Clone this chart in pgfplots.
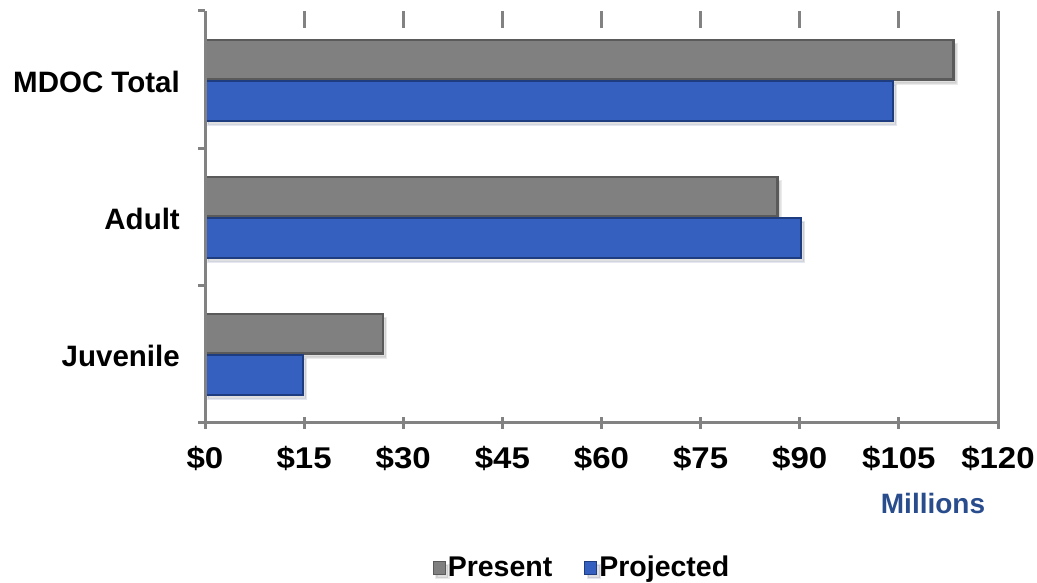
\documentclass[border=0pt]{standalone}
\usepackage{fontspec}
\setmainfont{Liberation Sans}
\newfontfamily\tickfont[FakeStretch=1.1]{Liberation Sans}
\usepackage{pgfplots}
\pgfplotsset{compat=1.18}
\usetikzlibrary{shadows}
\definecolor{pgray}{RGB}{128,128,128}
\definecolor{pgrayd}{RGB}{90,90,90}
\definecolor{pblue}{RGB}{54,96,192}
\definecolor{pblued}{RGB}{30,60,128}
\definecolor{axgray}{RGB}{130,130,130}
\definecolor{milblue}{RGB}{40,76,140}
\begin{document}
\begin{tikzpicture}[x=1pt,y=1pt]
\useasboundingbox (0,0) rectangle (1037,582);
\begin{axis}[
  at={(205pt,160pt)}, anchor=south west,
  scale only axis, width=793pt, height=411pt,
  xbar, xmin=0, xmax=120, ymin=-0.5, ymax=2.5,
  bar width=0.29,
  clip=false,
  axis line style={draw=none},
  major tick length=0pt,
  xtick={0,15,...,120},
  xticklabels={\$0,\$15,\$30,\$45,\$60,\$75,\$90,\$105,\$120},
  ytick={0,1,2},
  yticklabels={Juvenile,Adult,MDOC Total},
  xticklabel style={font=\fontsize{30}{32}\selectfont\bfseries\tickfont, anchor=base, yshift=-46pt, inner sep=0pt},
  yticklabel style={font=\fontsize{29.5}{31}\selectfont\bfseries, anchor=base east, xshift=-25pt, yshift=-13pt, inner sep=0pt},
  legend style={draw=none, fill=none, at={(0.4754,-0.353)}, anchor=center,
    font=\fontsize{28.5}{30}\selectfont\bfseries, legend columns=2,
    /tikz/every even column/.append style={column sep=30pt}},
  legend image code/.code={\draw[#1, line width=1pt] (0pt,-7pt) rectangle (12pt,6pt);},
]
\addplot[fill=pgray, draw=pgrayd, line width=2.5pt, bar shift=0.145,
  drop shadow={shadow xshift=3pt, shadow yshift=-4pt, fill=black, opacity=0.12}]
  coordinates {(26.9,0) (86.6,1) (113.3,2)};
\addplot[fill=pblue, draw=pblued, line width=2pt, bar shift=-0.155,
  drop shadow={shadow xshift=3pt, shadow yshift=-4pt, fill=black, opacity=0.12}]
  coordinates {(14.8,0) (90.2,1) (104.1,2)};
\legend{Present,Projected}
% axis frame
\draw[axgray, line width=3pt] (rel axis cs:0,1) -- (rel axis cs:0,0) -- (rel axis cs:1,0);
\draw[axgray, line width=3pt] (rel axis cs:1,1) -- ([yshift=-7pt]rel axis cs:1,0);
\pgfplotsinvokeforeach{0,15,30,45,60,75,90,105}{
  \draw[axgray, line width=3pt] ([yshift=5pt]axis cs:#1,-0.5) -- ([yshift=-7pt]axis cs:#1,-0.5);
}
\pgfplotsinvokeforeach{15,30,45,60,75,90,105}{
  \draw[axgray, line width=3pt] (axis cs:#1,2.5) -- ([yshift=-17pt]axis cs:#1,2.5);
}
\pgfplotsinvokeforeach{-0.5,0.5,1.5,2.5}{
  \draw[axgray, line width=3pt] (axis cs:0,#1) -- ([xshift=-7pt]axis cs:0,#1);
}
\end{axis}
\node[anchor=base, inner sep=0pt, text=milblue, font=\fontsize{28}{30}\selectfont\bfseries] at (933,69) {Millions};
\end{tikzpicture}
\end{document}
